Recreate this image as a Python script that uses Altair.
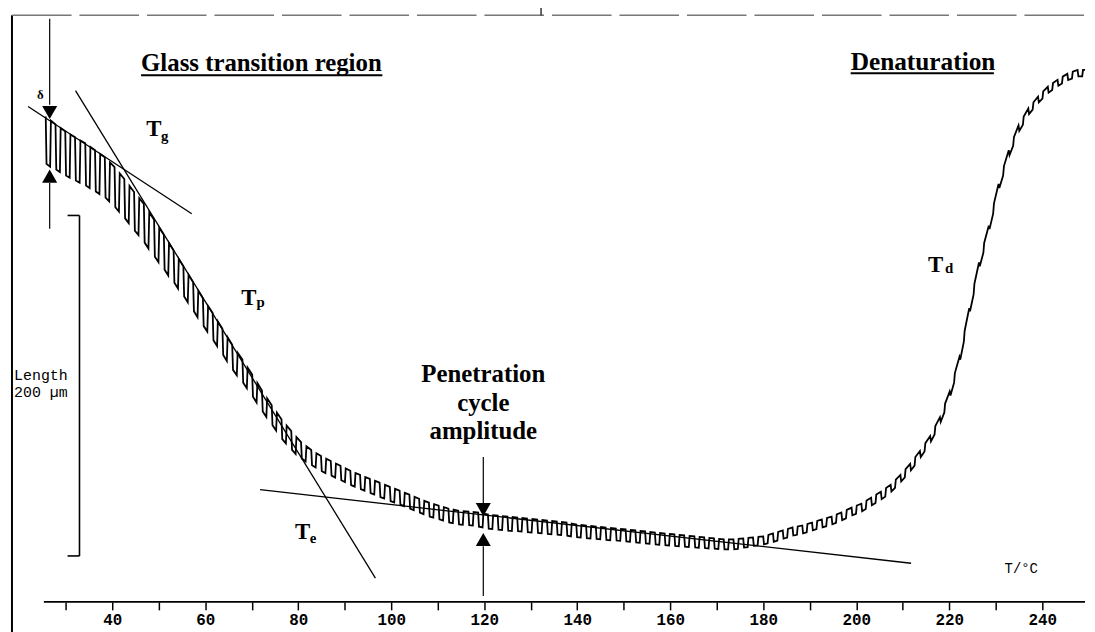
import altair as alt
import pandas as pd

# ---------------- data ----------------
# start temperature of each penetration cycle (deg C)
cycle_T = [25.7, 27.8, 29.9, 32.0, 34.2, 36.3, 38.4, 40.5, 42.6, 44.7,
           46.8, 49.0, 51.1, 53.2, 55.3, 57.4, 59.5, 61.6, 63.7, 65.8,
           68.0, 70.1, 72.2, 74.3, 76.4, 78.5, 80.6, 82.8, 84.9, 87.0,
           89.1, 91.2, 93.3, 95.4, 97.5, 99.7, 101.8, 103.9, 106.0, 108.1,
           110.2, 112.3, 114.4, 116.6, 118.7, 120.8, 122.9, 125.0, 127.1, 129.2,
           131.4, 133.5, 135.6, 137.7, 139.8, 141.9, 144.0, 146.1, 148.3, 150.4,
           152.5, 154.6, 156.7, 158.8, 160.9, 163.0, 165.2, 167.3, 169.4, 171.5,
           173.6, 175.7, 177.8, 180.0, 182.1, 184.2, 186.3, 188.4, 190.5, 192.6,
           194.7, 196.8, 199.0, 201.1, 203.2, 205.3, 207.4, 209.5, 211.6, 213.7,
           215.9, 218.0, 220.1, 222.2, 224.3, 226.4, 228.5, 230.6, 232.8, 234.9,
           237.0, 239.1, 241.2, 243.3, 245.4, 247.6]

# upper envelope of the length signal (um)
upper_um = [285.1, 280.5, 276.4, 272.9, 269.4, 265.3, 261.2, 255.4, 248.4, 240.8,
            233.8, 224.5, 215.7, 206.4, 197.1, 187.8, 178.4, 169.7, 160.4, 151.0,
            142.3, 133.5, 124.2, 115.5, 107.3, 100.3, 93.9, 89.2, 85.7, 82.8,
            79.9, 77.0, 74.6, 72.3, 70.0, 67.6, 65.3, 63.0, 60.6, 58.3,
            56.6, 54.8, 53.6, 53.1, 52.5, 51.3, 50.7, 50.1, 49.6, 49.0,
            48.4, 47.8, 47.2, 46.6, 45.5, 44.9, 44.3, 43.7, 43.1, 42.6,
            42.0, 41.4, 40.8, 40.2, 39.7, 39.1, 38.5, 37.9, 37.3, 36.7,
            36.7, 37.3, 37.9, 38.5, 40.2, 42.0, 43.7, 44.9, 46.6, 48.4,
            50.1, 52.5, 55.4, 57.7, 61.2, 64.7, 68.8, 74.6, 81.1, 88.6,
            97.4, 108.5, 123.6, 144.0, 172.6, 199.4, 221.0, 245.5, 265.3, 279.9,
            289.8, 296.8, 302.6, 306.7, 310.2, 312.5]

# penetration cycle amplitude (um)
amplitude_um = [27.4, 26.2, 25.7, 25.1, 24.5, 23.9, 23.3, 23.0, 22.5, 22.2,
                22.0, 21.0, 19.8, 18.1, 16.9, 16.3, 15.7, 15.2, 14.6, 14.0,
                12.8, 12.2, 11.7, 11.1, 11.1, 10.5, 9.3, 8.7, 8.7, 8.4,
                8.2, 8.2, 8.2, 8.2, 8.2, 8.2, 8.0, 8.0, 8.0, 8.0,
                8.0, 8.0, 8.0, 8.0, 8.2, 8.2, 8.2, 8.2, 8.0, 8.0,
                7.8, 7.8, 7.6, 7.6, 7.4, 7.4, 7.2, 7.2, 7.0, 7.0,
                7.0, 7.0, 7.0, 6.8, 6.8, 6.6, 6.4, 6.2, 6.0, 5.8,
                5.8, 5.4, 5.0, 4.8, 5.0, 5.0, 4.8, 4.8, 4.7, 4.7,
                4.7, 4.7, 4.7, 4.7, 4.7, 4.7, 4.4, 4.4, 4.4, 4.2,
                4.0, 4.0, 4.0, 4.0, 4.0, 4.0, 4.0, 4.0, 4.0, 4.0,
                3.8, 3.8, 3.8, 3.8, 3.8, 3.8]

x_ticks = [30, 40, 50, 60, 70, 80, 90, 100, 110, 120, 130, 140, 150,
           160, 170, 180, 190, 200, 210, 220, 230, 240]
x_domain = [18.44, 249.2]
y_domain = [0, 344.6]

# tangent construction lines (Tg, Tp, Te)
tangent_T1 = [21.9, 32.1, 71.8]
tangent_T2 = [57.1, 96.6, 211.8]
tangent_L1 = [291.0, 300.3, 65.9]
tangent_L2 = [228.0, 14.0, 22.7]

# amplitude arrows
arrow_T = [26.55, 119.8]
arrow_top_L = [[342.5, 292.0], [85.1, 57.7]]
arrow_bot_L = [[246.1, 219.2], [32.7, 3.5]]
arrow_down_L = [287.5, 54.2]
arrow_up_L = [250.1, 36.7]

# 200 um scale bar
scale_T = [30.4, 32.96]
scale_L = [27.0, 227.0]

# ---------------- build tables ----------------
rows = []
n = len(cycle_T)
for i in range(n):
    t0, u0, a = cycle_T[i], upper_um[i], amplitude_um[i]
    if i + 1 < n:
        dt, du = cycle_T[i + 1] - t0, upper_um[i + 1] - u0
    else:
        dt, du = cycle_T[i] - cycle_T[i - 1], 0.0
    for f, d in ((0.0, 0), (0.08, 1), (0.45, 1), (0.53, 0)):
        rows.append({"T": t0 + f * dt, "L": u0 + f * du - d * a, "k": len(rows)})
rows.append({"T": cycle_T[-1] + dt, "L": upper_um[-1], "k": len(rows)})
curve = pd.DataFrame(rows)

seg = []
for i in range(3):
    seg.append((tangent_T1[i], tangent_T2[i], tangent_L1[i], tangent_L2[i], 1.3))
for i in range(2):
    seg.append((arrow_T[i], arrow_T[i], arrow_top_L[i][0], arrow_top_L[i][1], 1.2))
    seg.append((arrow_T[i], arrow_T[i], arrow_bot_L[i][0], arrow_bot_L[i][1], 1.2))
seg.append((scale_T[1], scale_T[1], scale_L[0], scale_L[1], 1.6))
seg.append((scale_T[0], scale_T[1], scale_L[0], scale_L[0], 1.6))
seg.append((scale_T[0], scale_T[1], scale_L[1], scale_L[1], 1.6))
seg.append((25.3, x_domain[1], 0.0, 0.0, 1.8))          # x axis line
seg.append((46.2, 98.1, 309.3, 309.3, 2.0))             # underline 1
seg.append((198.8, 229.6, 310.5, 310.5, 2.0))           # underline 2
segs = pd.DataFrame(seg, columns=["T", "T2", "L", "L2", "w"])

tri = pd.DataFrame({
    "T": [arrow_T[0], arrow_T[0], arrow_T[1], arrow_T[1]],
    "L": [arrow_down_L[0], arrow_up_L[0], arrow_down_L[1], arrow_up_L[1]],
    "shape": ["triangle-down", "triangle-up", "triangle-down", "triangle-up"],
})

serif_text = ["Glass transition region", "Denaturation", "T", "g", "T", "p",
              "T", "e", "T", "d", "δ"]
serif_T = [46.2, 198.8, 47.3, 50.5, 67.75, 71.0, 79.3, 82.5, 215.45, 219.1, 23.8]
serif_L = [312.0, 312.5, 273.5, 270.6, 174.3, 173.2, 36.7, 34.4, 193.6, 193.0, 295.6]
serif_size = [25, 25.5, 23, 15, 23, 15, 23, 15, 23, 15, 13]
serif = pd.DataFrame({"text": serif_text, "T": serif_T, "L": serif_L, "s": serif_size})

center_text = ["Penetration", "cycle", "amplitude"]
center_L = [129.0, 112.0, 95.6]
center = pd.DataFrame({"text": center_text, "T": [119.8] * 3, "L": center_L})

mono_text = ["Length", "200 µm", "T/°C"]
mono_T = [18.9, 18.9, 231.9]
mono_L = [130.3, 120.6, 16.9]
mono_size = [15, 15, 14]
mono = pd.DataFrame({"text": mono_text, "T": mono_T, "L": mono_L, "s": mono_size})

# ---------------- chart ----------------
xs = alt.Scale(domain=x_domain, nice=False, zero=False)
ys = alt.Scale(domain=y_domain, nice=False, zero=False)

x_axis = alt.Axis(values=x_ticks, labelExpr="datum.value % 20 == 0 ? datum.label : ''",
                  domain=False, grid=False, title=None, tickSize=8, tickWidth=1.5,
                  tickColor="black", labelColor="black", labelFont="Liberation Mono",
                  labelFontSize=16, labelFontWeight="bold", labelPadding=2)


def X(field="T:Q"):
    return alt.X(field, scale=xs, axis=x_axis)


def Y(field="L:Q"):
    return alt.Y(field, scale=ys, axis=None)


line = alt.Chart(curve).mark_line(color="black", strokeWidth=1.8, clip=True).encode(
    x=X(), y=Y(), order="k:Q",
)

rules = alt.Chart(segs).mark_rule(color="black").encode(
    x=X(), x2="T2:Q", y=Y(), y2="L2:Q",
    strokeWidth=alt.StrokeWidth("w:Q", scale=None),
)

tris = alt.Chart(tri).mark_point(filled=True, color="black", opacity=1, size=230).encode(
    x=X(), y=Y(), shape=alt.Shape("shape:N", scale=None),
)

serif_layer = alt.Chart(serif).mark_text(font="Liberation Serif", fontWeight="bold",
                                         align="left", baseline="alphabetic",
                                         color="black").encode(
    x=X(), y=Y(), text="text:N", size=alt.Size("s:Q", scale=None),
)

center_layer = alt.Chart(center).mark_text(font="Liberation Serif", fontWeight="bold",
                                           align="center", baseline="alphabetic",
                                           fontSize=25, color="black").encode(
    x=X(), y=Y(), text="text:N",
)

mono_layer = alt.Chart(mono).mark_text(font="Liberation Mono", align="left",
                                       baseline="alphabetic", color="black").encode(
    x=X(), y=Y(), text="text:N", size=alt.Size("s:Q", scale=None),
)

dummy = pd.DataFrame({"a": [0]})
frame_left = alt.Chart(dummy).mark_rule(color="black", strokeWidth=2).encode(
    x=alt.value(0), y=alt.value(0), y2=alt.value(625))
frame_top = alt.Chart(dummy).mark_rule(color="#777777", strokeWidth=1.5,
                                       strokeDash=[60, 8]).encode(
    x=alt.value(0), x2=alt.value(1081), y=alt.value(0))
frame_tick = alt.Chart(dummy).mark_rule(color="black", strokeWidth=1.2).encode(
    x=alt.value(533), y=alt.value(-13), y2=alt.value(0))

chart = alt.layer(line, rules, tris, serif_layer, center_layer, mono_layer,
                  frame_left, frame_top, frame_tick).properties(
    width=1081, height=591,
    autosize=alt.AutoSizeParams(type="none"),
    padding={"left": 4, "top": 5, "right": 2, "bottom": 28},
    background="white",
).configure_view(stroke=None)

chart.save("out.html", embed_options={"renderer": "svg", "actions": False})
